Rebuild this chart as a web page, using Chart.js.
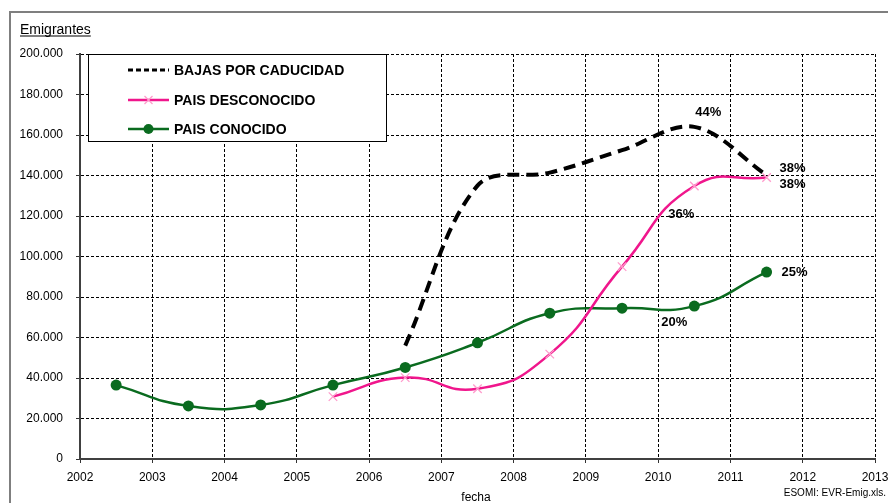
<!DOCTYPE html>
<html><head><meta charset="utf-8">
<script src="https://cdn.jsdelivr.net/npm/chart.js@4"></script>
<style>html,body{margin:0;padding:0;background:#fff}#wrap{width:888px;height:503px;position:relative;overflow:hidden}</style>
</head><body><div id="wrap"><canvas id="c" width="888" height="503"></canvas></div>
<script>
// ---- data ----
const seriesNames = ['BAJAS POR CADUCIDAD', 'PAIS DESCONOCIDO', 'PAIS CONOCIDO'];
const bajasYears = [2006.5, 2007.5, 2008.5, 2009.5, 2010.5, 2011.5];
const bajas = [56000, 135000, 141400, 152500, 164000, 140200];
const bajasPct = [null, null, null, null, '44%', '38%'];
const descYears = [2005.5, 2006.5, 2007.5, 2008.5, 2009.5, 2010.5, 2011.5];
const desconocido = [30800, 40200, 34700, 51800, 95000, 134800, 139000];
const descPct = [null, null, null, null, null, '36%', '38%'];
const conYears = [2002.5, 2003.5, 2004.5, 2005.5, 2006.5, 2007.5, 2008.5, 2009.5, 2010.5, 2011.5];
const conocido = [36500, 26200, 26700, 36500, 45200, 57400, 72000, 74500, 75500, 92300];
const conPct = [null, null, null, null, null, null, null, null, '20%', '25%'];
const xTickLabels = [2002, 2003, 2004, 2005, 2006, 2007, 2008, 2009, 2010, 2011, 2012, 2013];
const yTickValues = [0, 20000, 40000, 60000, 80000, 100000, 120000, 140000, 160000, 180000, 200000];
const yAxisTitle = 'Emigrantes';
const xAxisTitle = 'fecha';
const sourceNote = 'ESOMI: EVR-Emig.xls.';

// ---- styles ----
const C_BLACK = '#000000';
const C_PINK = '#f0168c';
const C_PINK_MARK = '#ff9ccc';
const C_GREEN = '#0a6b1f';
const FONT = '"Liberation Sans", Arial, sans-serif';

const toPts = (xs, ys) => xs.map((x, i) => ({ x: x, y: ys[i] }));
const pctBySeries = [bajasPct, descPct, conPct];
// label offsets (style), keyed by dataset/point
const pctOffsets = {
  '0-4': [14, -14], '0-5': [26, -7],
  '1-5': [-13, 28], '1-6': [26, 7],
  '2-8': [-20, 16], '2-9': [28, 0]
};

const fmt = v => String(v).replace(/\B(?=(\d{3})+(?!\d))/g, '.');

const decor = {
  id: 'decor',
  beforeDraw(chart) {
    const ctx = chart.ctx;
    ctx.save();
    ctx.fillStyle = '#fff';
    ctx.fillRect(0, 0, chart.width, chart.height);
    ctx.strokeStyle = '#7f7f7f';
    ctx.lineWidth = 2;
    ctx.strokeRect(10, 12, 1000, 600);
    ctx.restore();
  },
  afterDatasetsDraw(chart) {
    const ctx = chart.ctx;
    ctx.save();
    ctx.font = 'bold 13px ' + FONT;
    ctx.fillStyle = '#000';
    ctx.textAlign = 'center';
    ctx.textBaseline = 'middle';
    pctBySeries.forEach((arr, di) => {
      const meta = chart.getDatasetMeta(di);
      arr.forEach((t, pi) => {
        if (!t) return;
        const el = meta.data[pi];
        const off = pctOffsets[di + '-' + pi] || [0, -12];
        ctx.fillText(t, el.x + off[0], el.y + off[1]);
      });
    });
    ctx.restore();
  },
  afterDraw(chart) {
    const ctx = chart.ctx;
    ctx.save();
    // legend box
    ctx.fillStyle = '#fff';
    ctx.fillRect(88, 54, 299, 88);
    ctx.strokeStyle = '#000';
    ctx.lineWidth = 1;
    ctx.strokeRect(88.5, 54.5, 298, 87);
    const rows = [70, 100, 129];
    const x0 = 128, x1 = 169;
    chart.data.datasets.forEach((ds, i) => {
      const y = rows[i];
      ctx.save();
      ctx.strokeStyle = ds.borderColor;
      ctx.lineWidth = i === 0 ? 3 : 2.5;
      ctx.setLineDash(i === 0 ? [5, 3] : []);
      ctx.beginPath(); ctx.moveTo(x0, y); ctx.lineTo(x1, y); ctx.stroke();
      ctx.restore();
      const cx = (x0 + x1) / 2;
      if (i === 1) {
        ctx.strokeStyle = C_PINK_MARK; ctx.lineWidth = 1.3;
        ctx.beginPath();
        ctx.moveTo(cx - 4, y - 4); ctx.lineTo(cx + 4, y + 4);
        ctx.moveTo(cx - 4, y + 4); ctx.lineTo(cx + 4, y - 4);
        ctx.stroke();
      } else if (i === 2) {
        ctx.fillStyle = C_GREEN;
        ctx.beginPath(); ctx.arc(cx, y, 5, 0, Math.PI * 2); ctx.fill();
      }
      ctx.fillStyle = '#000';
      ctx.font = 'bold 14px ' + FONT;
      ctx.textAlign = 'left';
      ctx.textBaseline = 'middle';
      ctx.fillText(ds.label, 174, y + 1);
    });
    ctx.fillStyle = '#000';
    ctx.font = '14px ' + FONT;
    ctx.textAlign = 'left';
    ctx.textBaseline = 'alphabetic';
    ctx.fillText(yAxisTitle, 20, 34);
    const w = ctx.measureText(yAxisTitle).width;
    ctx.fillRect(20, 35.5, w, 1);
    ctx.font = '12px ' + FONT;
    ctx.textAlign = 'center';
    ctx.fillText(xAxisTitle, 476, 501);
    ctx.font = '10px ' + FONT;
    ctx.textAlign = 'right';
    ctx.fillText(sourceNote, 886, 496);
    ctx.restore();
  }
};

new Chart(document.getElementById('c'), {
  type: 'line',
  data: {
    datasets: [
      {
        label: seriesNames[0], data: toPts(bajasYears, bajas),
        borderColor: C_BLACK, backgroundColor: C_BLACK, borderWidth: 4,
        borderDash: [12, 7], pointRadius: 0, tension: 0.35, fill: false
      },
      {
        label: seriesNames[1], data: toPts(descYears, desconocido),
        borderColor: C_PINK, backgroundColor: C_PINK_MARK, borderWidth: 2.5,
        pointStyle: 'crossRot', pointRadius: 6, pointBorderColor: C_PINK_MARK,
        pointBorderWidth: 1.3, tension: 0.5, fill: false
      },
      {
        label: seriesNames[2], data: toPts(conYears, conocido),
        borderColor: C_GREEN, backgroundColor: C_GREEN, borderWidth: 2.5,
        pointStyle: 'circle', pointRadius: 5.5, pointBorderColor: C_GREEN,
        pointBackgroundColor: C_GREEN, pointBorderWidth: 0, tension: 0.5, fill: false
      }
    ]
  },
  options: {
    responsive: false,
    animation: false,
    devicePixelRatio: 1,
    layout: { padding: { left: 0, top: 54, right: 13, bottom: 0 } },
    plugins: { legend: { display: false }, tooltip: { enabled: false } },
    scales: {
      x: {
        type: 'linear', min: xTickLabels[0], max: xTickLabels[xTickLabels.length - 1],
        afterBuildTicks: s => { s.ticks = xTickLabels.map(v => ({ value: v })); },
        afterFit: s => { s.height = 44; s.paddingLeft = 0; s.paddingRight = 0; },
        ticks: { callback: v => String(v), color: '#000', font: { family: FONT, size: 12 }, padding: 7, maxRotation: 0, autoSkip: false },
        grid: { color: '#000', lineWidth: 1, tickLength: 4, tickColor: '#333', tickBorderDash: [], drawOnChartArea: true },
        border: { display: true, color: '#404040', width: 2, dash: [3, 2] }
      },
      y: {
        min: 0, max: 200000,
        afterBuildTicks: s => { s.ticks = yTickValues.map(v => ({ value: v })); },
        afterFit: s => { s.width = 80; s.paddingTop = 0; s.paddingBottom = 0; },
        ticks: { callback: v => fmt(v), color: '#000', font: { family: FONT, size: 12 }, padding: 13, autoSkip: false },
        grid: { color: '#000', lineWidth: 1, tickLength: 4, tickColor: '#333', tickBorderDash: [] },
        border: { display: true, color: '#404040', width: 2, dash: [3, 2] }
      }
    }
  },
  plugins: [decor]
});
</script></body></html>
